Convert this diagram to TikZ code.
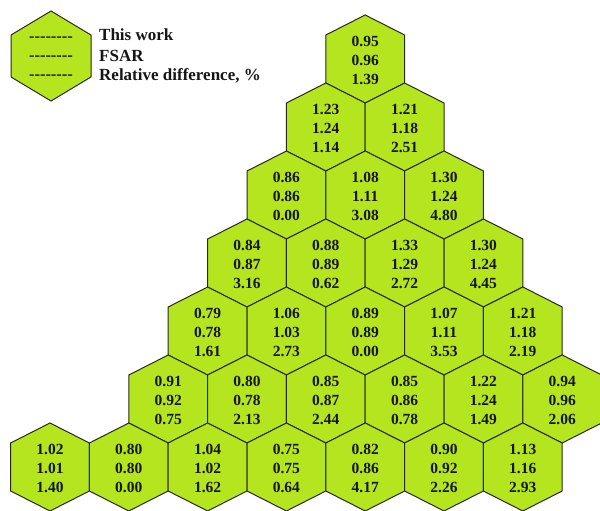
\documentclass[tikz,border=0pt]{standalone}
\usepackage{fontspec}
\setmainfont{Liberation Serif}
\usepackage{tikz}
\usetikzlibrary{positioning}
\definecolor{cellfill}{HTML}{B4E51F}
\definecolor{celledge}{HTML}{262A1C}
\definecolor{ink}{HTML}{161616}
\newcommand\legdash{\mbox{-}\mbox{-}\mbox{-}\mbox{-}\mbox{-}\mbox{-}\mbox{-}\mbox{-}}
\tikzset{
  hexcell/.style={fill=cellfill, draw=celledge, line width=1pt, line join=miter},
  val/.style={align=center, text=ink, inner sep=0pt,
              font=\fontsize{15.5}{19}\selectfont\bfseries},
  leg/.style={anchor=west, text=ink, inner sep=0pt,
              font=\fontsize{17}{20}\selectfont\bfseries},
  dashtxt/.style={text=ink, inner sep=0pt, font=\fontsize{16.5}{20}\selectfont\bfseries},
}

\begin{document}
\begin{tikzpicture}[x=1pt, y=-1pt]
  \useasboundingbox (0,0) rectangle (600,511);
  % legend
  \draw[hexcell] (51,11) -- ++(40,24) -- ++(0,42) -- ++(-40,24) -- ++(-40,-24) -- ++(0,-42) -- cycle;
  \node[dashtxt] (d1) at (51,39) {\legdash};
  \node[dashtxt] (d2) at (51,58) {\legdash};
  \node[dashtxt] (d3) at (51,77) {\legdash};
  \node[leg] (l1) at (99,35) {This work};
  \node[leg] (l2) at (99,56) {FSAR};
  \node[leg] (l3) at (99,76) {Relative difference, \%};
  % core map
  \foreach \r/\j/\a/\b/\c in {
      1/8/0.95/0.96/1.39,
      2/7/1.23/1.24/1.14, 2/9/1.21/1.18/2.51,
      3/6/0.86/0.86/0.00, 3/8/1.08/1.11/3.08, 3/10/1.30/1.24/4.80,
      4/5/0.84/0.87/3.16, 4/7/0.88/0.89/0.62, 4/9/1.33/1.29/2.72, 4/11/1.30/1.24/4.45,
      5/4/0.79/0.78/1.61, 5/6/1.06/1.03/2.73, 5/8/0.89/0.89/0.00, 5/10/1.07/1.11/3.53, 5/12/1.21/1.18/2.19,
      6/3/0.91/0.92/0.75, 6/5/0.80/0.78/2.13, 6/7/0.85/0.87/2.44, 6/9/0.85/0.86/0.78, 6/11/1.22/1.24/1.49, 6/13/0.94/0.96/2.06,
      7/0/1.02/1.01/1.40, 7/2/0.80/0.80/0.00, 7/4/1.04/1.02/1.62, 7/6/0.75/0.75/0.64, 7/8/0.82/0.86/4.17, 7/10/0.90/0.92/2.26, 7/12/1.13/1.16/2.93} {
    \pgfmathsetmacro{\cx}{50+39.4*\j}
    \pgfmathsetmacro{\cy}{59+68*(\r-1)}
    \draw[hexcell] (\cx,\cy-44) -- ++(39.4,20) -- ++(0,48) -- ++(-39.4,20) -- ++(-39.4,-20) -- ++(0,-48) -- cycle;
    \node[val] (c-\r-\j) at (\cx,\cy+1.5) {\a\\\b\\\c};
  }
\end{tikzpicture}
\end{document}
